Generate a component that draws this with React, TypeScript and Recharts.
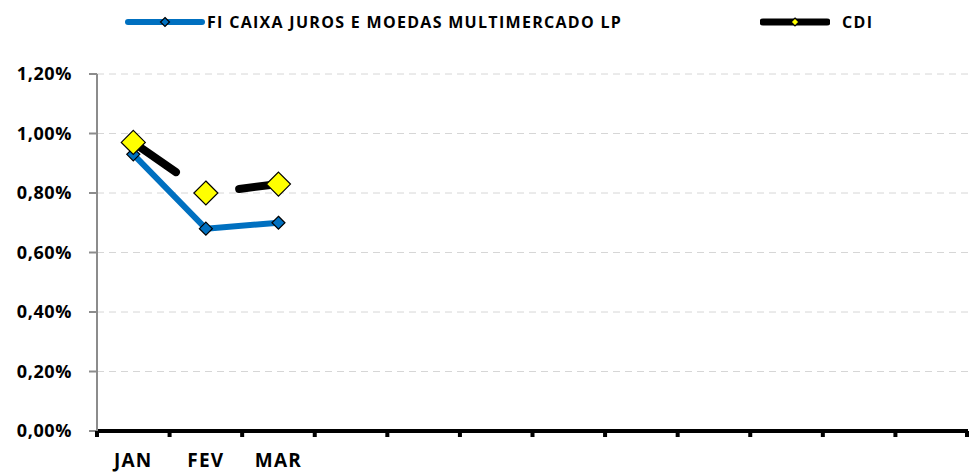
import { LineChart, Line, XAxis, YAxis, CartesianGrid } from "recharts";

const months = ["JAN", "FEV", "MAR", "", "", "", "", "", "", "", "", ""];
const fundValues = [0.93, 0.68, 0.7, null, null, null, null, null, null, null, null, null];
const cdiValues = [0.97, 0.8, 0.83, null, null, null, null, null, null, null, null, null];
const yTicks = [0, 0.2, 0.4, 0.6, 0.8, 1.0, 1.2];

const FUND_NAME = "FI CAIXA JUROS E MOEDAS MULTIMERCADO LP";
const CDI_NAME = "CDI";

const data = months.map((m, i) => ({ month: m, idx: i, fund: fundValues[i], cdi: cdiValues[i] }));

const FONT = "'Open Sans', Lato, sans-serif";
const PLOT_W = 871;
const HALF_BAND = PLOT_W / months.length / 2;

const pct = (v: number) => v.toFixed(2).replace(".", ",") + "%";

function Diamond({ cx, cy, r, fill }: { cx?: number; cy?: number; r: number; fill: string }) {
  if (cx == null || cy == null) return null;
  return (
    <path
      d={`M${cx},${cy - r} L${cx + r},${cy} L${cx},${cy + r} L${cx - r},${cy} Z`}
      fill={fill}
      stroke="#000"
      strokeWidth={1.2}
    />
  );
}

function MonthTick(props: any) {
  const { x, y, index, width, label } = props;
  const bw = width / months.length;
  const left = x - bw / 2;
  return (
    <g>
      <rect x={left - 2} y={y - 8} width={4} height={6} fill="#000" />
      {index === months.length - 1 ? (
        <rect x={x + bw / 2 - 3} y={y - 8} width={4} height={6} fill="#000" />
      ) : null}
      <text
        x={x}
        y={y + 28}
        textAnchor="middle"
        fontFamily={FONT}
        fontWeight={700}
        fontSize={19}
        letterSpacing={1.2}
        fill="#000"
      >
        {label}
      </text>
    </g>
  );
}

function LegendItem({ x, lineW, gap, color, markerR, markerFill, stroke, label }: any) {
  return (
    <div style={{ position: "absolute", left: x, top: 13, display: "flex", alignItems: "center" }}>
      <svg width={lineW} height={18}>
        <line x1={3} y1={9} x2={lineW - 3} y2={9} stroke={color} strokeWidth={stroke} strokeLinecap="round" />
        <Diamond cx={lineW / 2} cy={9} r={markerR} fill={markerFill} />
      </svg>
      <span
        style={{
          fontFamily: FONT,
          fontWeight: 700,
          fontSize: 16,
          letterSpacing: 1.3,
          marginLeft: gap,
          color: "#000",
          lineHeight: "18px",
        }}
      >
        {label}
      </span>
    </div>
  );
}

export default function App() {
  return (
    <div style={{ position: "absolute", left: 0, top: 0, width: 970, height: 473, background: "#fff" }}>
      <LegendItem x={125} lineW={80} gap={2} color="#0070C0" markerR={4.5} markerFill="#0070C0" stroke={6} label={FUND_NAME} />
      <LegendItem x={760} lineW={70} gap={12} color="#000" markerR={4} markerFill="#FFFF00" stroke={7} label={CDI_NAME} />
      <LineChart width={970} height={473} data={data} margin={{ top: 74, right: 2, bottom: 0, left: 0 }}>
        <CartesianGrid vertical={false} stroke="#d6d6d6" strokeDasharray="7 5" />
        <XAxis
          dataKey="idx"
          interval={0}
          height={42}
          padding={{ left: HALF_BAND, right: HALF_BAND }}
          tickLine={false}
          axisLine={{ stroke: "#000", strokeWidth: 4 }}
          tick={(p: any) => <MonthTick {...p} label={months[p.payload.value]} />}
        />
        <YAxis
          width={97}
          domain={[0, 1.2]}
          ticks={yTicks}
          tickFormatter={pct}
          axisLine={{ stroke: "#8c8c8c", strokeWidth: 2 }}
          tickLine={{ stroke: "#8c8c8c", strokeWidth: 2 }}
          tickSize={8}
          tickMargin={17}
          tick={{ fill: "#000", fontFamily: FONT, fontWeight: 700, fontSize: 18, letterSpacing: 0.6 }}
        />
        <Line
          dataKey="fund"
          name={FUND_NAME}
          stroke="#0070C0"
          strokeWidth={6}
          strokeLinejoin="round"
          isAnimationActive={false}
          dot={(p: any) => <Diamond key={"f" + p.index} cx={p.cx} cy={p.cy} r={6.5} fill="#0070C0" />}
          activeDot={false}
        />
        <Line
          dataKey="cdi"
          name={CDI_NAME}
          stroke="#000"
          strokeWidth={8}
          strokeLinecap="round"
          strokeDasharray="52 70 60"
          isAnimationActive={false}
          dot={(p: any) => <Diamond key={"c" + p.index} cx={p.cx} cy={p.cy} r={12} fill="#FFFF00" />}
          activeDot={false}
        />
      </LineChart>
    </div>
  );
}
